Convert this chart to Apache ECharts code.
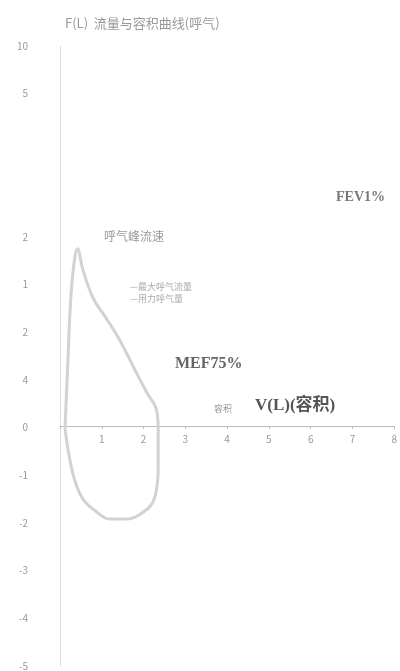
<!DOCTYPE html>
<html><head><meta charset="utf-8">
<script src="https://cdn.jsdelivr.net/npm/echarts@6/dist/echarts.min.js"></script>
<style>html,body{margin:0;padding:0;background:#fff}#c{width:400px;height:671px}</style>
</head><body><div id="c"></div>
<script>
// Flow-volume loop: volume (L) vs flow (L/s)
const volume = [0.12, 0.18, 0.25, 0.33, 0.42, 0.55, 0.8, 1.1, 1.45, 1.8, 2.1, 2.3, 2.35, 2.35, 2.3, 2.2, 1.95, 1.6, 1.2, 0.85, 0.55, 0.35, 0.2, 0.12];
const flow   = [0.0, 1.2, 2.6, 3.4, 3.75, 3.3, 2.7, 2.3, 1.8, 1.2, 0.7, 0.4, 0.0, -0.9, -1.35, -1.6, -1.8, -1.92, -1.92, -1.75, -1.5, -1.1, -0.5, 0.0];
const xTickLabels = ['', '1', '2', '3', '4', '5', '6', '7', '8'];
const yTickLabels = {8: '10', 7: '5', 6: '', 5: '', 4: '2', 3: '1', 2: '2', 1: '4', 0: '0', '-1': '-1', '-2': '-2', '-3': '-3', '-4': '-4', '-5': '-5'};
const titleText = 'F(L)  流量与容积曲线(呼气)';
const labels = ['呼气峰流速', '—最大呼气流量', '—用力呼气量', 'MEF75%', 'V(L)(容积)', '容积', 'FEV1%'];

const chart = echarts.init(document.getElementById('c'));
chart.setOption({
  animation: false,
  backgroundColor: '#fff',
  textStyle: {fontFamily: 'Noto Sans CJK SC'},
  grid: {left: 60, right: 5, top: 46, bottom: 1},
  xAxis: {
    type: 'value', min: 0, max: 8, interval: 1,
    offset: -240,
    axisLine: {onZero: false, lineStyle: {color: '#bbb', width: 1}},
    axisTick: {show: true, inside: false, length: 3, lineStyle: {color: '#bbb'}},
    axisLabel: {color: '#999', fontSize: 10, margin: 8, formatter: v => xTickLabels[v] ?? ''},
    splitLine: {show: false}
  },
  yAxis: {
    type: 'value', min: -5, max: 8, interval: 1,
    axisLine: {show: true, onZero: false, lineStyle: {color: '#ddd', width: 1}},
    axisTick: {show: false},
    axisLabel: {color: '#999', fontSize: 10, margin: 32, formatter: v => yTickLabels[v] ?? ''},
    splitLine: {show: false}
  },
  series: [{
    type: 'line',
    data: volume.map((v, i) => [v, flow[i]]),
    smooth: 0.4,
    symbol: 'none',
    lineStyle: {color: '#d2d2d2', width: 3}
  }],
  graphic: [
    {type: 'text', left: 65, top: 17, style: {text: titleText, fill: '#999', font: '13px "Noto Sans CJK SC"'}},
    {type: 'text', left: 104, top: 230, style: {text: labels[0], fill: '#999', font: '12px "Noto Sans CJK SC"'}},
    {type: 'text', left: 130, top: 282, style: {text: labels[1], fill: '#aaa', font: '9px "Noto Sans CJK SC"'}},
    {type: 'text', left: 130, top: 294, style: {text: labels[2], fill: '#aaa', font: '9px "Noto Sans CJK SC"'}},
    {type: 'text', left: 175, top: 356, style: {text: labels[3], fill: '#666', font: 'bold 16px "Liberation Serif"'}},
    {type: 'text', left: 255, top: 397, style: {text: labels[4], fill: '#555', font: 'bold 17px "Liberation Serif", "Noto Sans CJK SC"'}},
    {type: 'text', left: 214, top: 404, style: {text: labels[5], fill: '#999', font: '9px "Noto Sans CJK SC"'}},
    {type: 'text', left: 336, top: 190, style: {text: labels[6], fill: '#777', font: 'bold 14px "Liberation Serif"'}}
  ]
});
</script></body></html>
